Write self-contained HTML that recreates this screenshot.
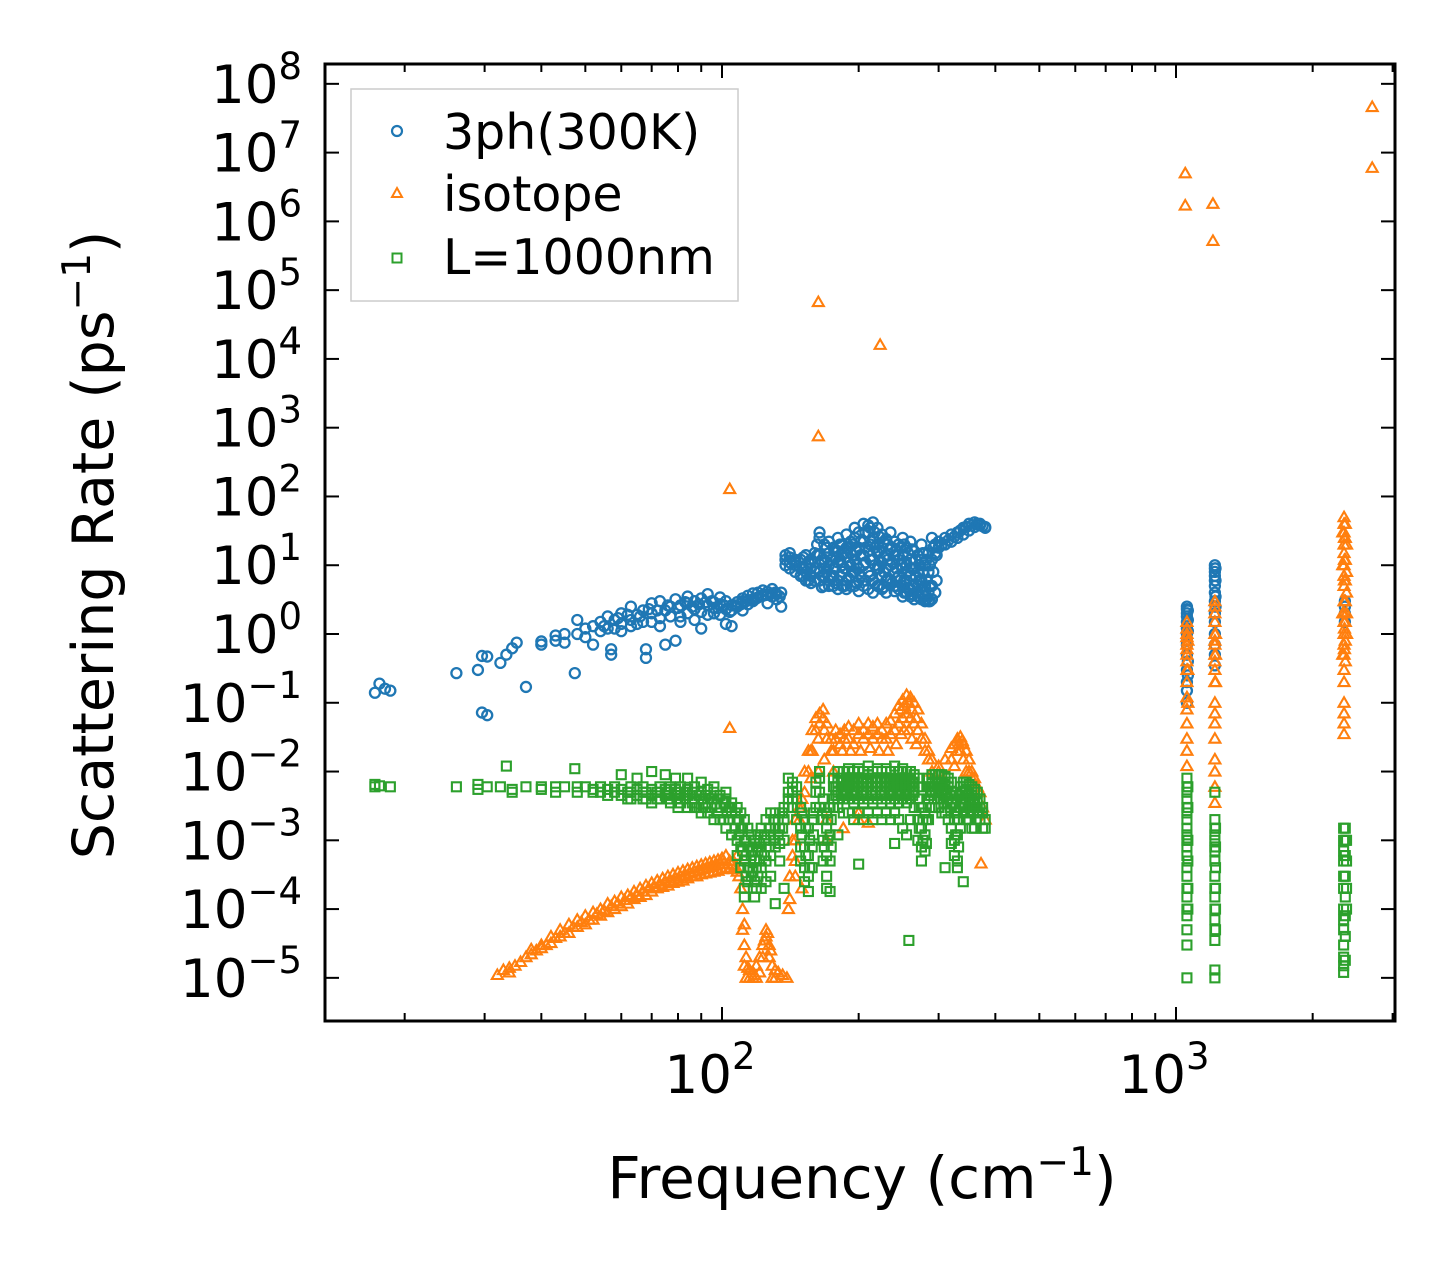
<!DOCTYPE html>
<html><head><meta charset="utf-8"><style>
html,body{margin:0;padding:0;background:#fff;}
svg{display:block;font-family:"DejaVu Sans","Liberation Sans",sans-serif;}
</style></head><body>
<svg id="chart" width="1455" height="1270" viewBox="0 0 1455 1270" xmlns="http://www.w3.org/2000/svg">
<rect x="0" y="0" width="1455" height="1270" fill="#fff"/>
<g id="marks"></g>
<g id="axes"></g>
<text x="862" y="1198" font-size="58" text-anchor="middle">Frequency (cm<tspan font-size="39" dy="-23">−1</tspan><tspan dy="23">)</tspan></text>
<text transform="translate(113,545) rotate(-90)" font-size="57" text-anchor="middle">Scattering Rate (ps<tspan font-size="39" dy="-23">−1</tspan><tspan dy="23">)</tspan></text>
<g>
<rect x="351" y="89" width="387" height="212" fill="#fff" stroke="#ccc" stroke-width="1.5"/>
<circle cx="397" cy="131" r="5" fill="none" stroke="#1f77b4" stroke-width="2.2"/>
<text x="443" y="149" font-size="49">3ph(300K)</text>
<polygon points="397,188 402,197 392,197" fill="none" stroke="#ff7f0e" stroke-width="2"/>
<text x="443" y="211" font-size="49">isotope</text>
<rect x="392.5" y="253.5" width="9" height="9" fill="none" stroke="#2ca02c" stroke-width="2"/>
<text x="443" y="274" font-size="49">L=1000nm</text>
</g>
</svg>
<script>
// rows: [frequency, rate1, rate2, ...]
const phononData = [[17.2,.14],[17.6,.19],[18.1,.16],[18.6,.15],[26,.27],[29,.3],[29.6,.48,.072],[30.4,.47,.066],[32.5,.38],[33.5,.5],[34.5,.62],[35.3,.75],[37,.17],[40,.7,.78],[43,.8,.95],[45,.75,1],[47.4,.27],[48,1.6,1],[50,.9,1.2],[52,.7,1.3],[54,1.1,1.5],[56,1.8,1.2],[57,.5,.6],[58,1.6,1.2],[60,2,1.4,1.1],[63,2.5,1.3,1.6],[65,1.9,1.4],[67,2.2,1.5],[68,.6,.45],[70,2.8,1.5,2],[73,3,1.7,1.3],[75,2.2,.7],[77,2.5,1.8],[79,.8,3.2],[81,1.8,2.6,1.5],[84,3.5,2,2.8],[87,1.6,2.3,3],[90,2.1,1.2,3.3],[93,2.6,1.9,3.8],[96,2.4,2.9,2],[99,3.4,2.7,1.9],[102,2.3,3,1.4],[105,2.6,1.3,2.2],[108,2.9,2.5],[111,3,2.2,3.3],[114,2.7,3.6],[117,3,3.9,3.2],[120,4,3.4],[123,4.3,3.6],[126,4.1,2.8],[129,3.5,4.5],[132,3.8,3.2],[135,2.5,4],[138,14,12,10],[141,15,13,11,9],[145,12,10,8,11],[149,7,12,9],[153,10,8,6,14],[157,9,7,5.5,12],[160,11,6,8,15],[164,30,25,14,8,6],[168,20,12,9,5,7],[172,15,22,10,6,5],[176,9,18,13,7,5],[180,11,25,16,6,4.5],[184,8,14,20,10,5],[188,13,28,18,6,4.5],[192,10,22,15,7,5],[196,25,35,12,8,5],[200,18,30,9,6,4.2],[205,14,40,22,10,5],[210,30,38,16,8,4.5],[215,42,25,12,6,4],[220,35,20,15,9,5],[225,28,18,11,7,4.5],[230,24,14,9,6,4],[235,30,17,10,6],[240,22,14,8,5,4.2],[245,20,12,7,4.5],[250,25,14,9,5,3.5],[255,18,10,6,4],[260,22,12,7,4.5,3.5],[265,16,9,5,3.2],[270,14,8,5,3.5],[275,20,12,6,3.2],[280,10,5,3.5,3],[285,15,8,4,3],[290,12,25,5,3.2],[295,20,15,4],[300,22,18],[310,20,25],[320,22,28],[330,30,25],[340,35,28],[350,40,32],[360,42,36],[370,38,40],[380,36,35],[1057,2.5,2,1.5,1,.7,.5,.3,.2,.15,.1,1.8,2.3,1.2,.8],[1062,2.2,1.6,1.1,.4,.25],[1218,10,8,6,4,3,2,1.5,1,.7,.5,.35,9,7,5],[1222,9,6,3.5,2.5],[2355,2,1.5,3,2.5]];
const phononExtra = [[151,13,9,7],[155,11,6],[162,9,14,20],[166,11,7,4.8],[170,18,13,8],[174,12,6.5],[178,16,9,5.5],[182,20,12,7],[186,15,9,5],[190,18,11,6.5],[194,20,14,8],[198,16,10,5.5],[202,22,14,7],[207,30,18,11,6],[212,35,20,12,7],[217,30,18,10,5.5],[222,26,16,9,5],[227,22,13,8,4.8],[232,20,12,6.5],[237,18,11,5.5],[242,16,9,5],[247,18,10,6],[252,20,11,6,4],[257,15,8,4.5],[262,17,9,5,3.8],[267,12,7,4],[272,10,6,3.5],[277,15,8,4],[282,12,6,3.2],[287,10,5,3],[292,18,8],[297,14,6],[305,20],[315,23],[325,26],[335,32],[345,36],[355,38],[365,40],[375,37],[55,1.3],[59,1.7],[62,1.9],[66,1.8],[69,2.3],[72,2.2],[76,2.6],[80,2.4],[83,2.9],[86,2.5],[89,2.7],[92,2.9],[95,3],[98,2.4],[101,2.6],[104,2.1],[107,2.6],[110,2.7],[113,3],[116,3.1],[119,3.3],[122,3.6],[125,3.7],[128,3.8],[131,4],[134,3.5]];
const isotopeData = [[32,1.1e-5],[33,1.3e-5],[34,1.4e-5,1.2e-5],[35,1.5e-5],[37,2e-5],[38,2.2e-5,2.6e-5],[40,2.7e-5,3e-5],[42,3.2e-5,4e-5],[44,4e-5,5e-5],[46,4.5e-5,6e-5],[48,5.5e-5,7e-5],[50,6e-5,8e-5],[52,7e-5,9e-5],[54,8e-5,1e-4],[56,9e-5,1.2e-4],[58,1e-4,1.3e-4],[60,1.1e-4,1.5e-4],[62,1.2e-4,1.6e-4],[64,1.4e-4,1.8e-4],[66,1.5e-4,2e-4],[68,1.6e-4,2.2e-4],[70,1.8e-4,2.4e-4],[72,2e-4,2.6e-4],[74,2.1e-4,2.8e-4],[76,2.2e-4,3e-4],[78,2.4e-4,3.2e-4],[80,2.5e-4,3.4e-4],[82,2.6e-4,3.6e-4],[84,2.8e-4,3.8e-4],[86,3e-4,4e-4],[88,3e-4,4.2e-4],[90,3.2e-4,4.4e-4],[92,3.3e-4,4.6e-4],[94,3.4e-4,4.8e-4],[96,3.5e-4,5e-4],[98,3.6e-4,5.2e-4],[100,3.8e-4,5.5e-4],[102,4e-4,6e-4],[104,4e-4,5e-4],[106,3.8e-4,5e-4],[108,3.5e-4,6e-4],[110,2e-4,4e-4],[111,1e-4,5e-5],[112,3e-5,1.5e-5],[113,2e-5,1e-5],[115,1e-5,1.3e-5],[117,1e-5,1.2e-5],[119,1e-5,1.5e-5],[121,1.2e-5,2e-5],[123,2e-5,3e-5],[125,4e-5,5e-5],[127,3e-5,2e-5],[129,1.5e-5,1e-5],[131,1e-5,1.3e-5],[133,1.2e-5],[136,1.1e-5],[139,1e-5],[141,1.4e-4,3e-4],[143,6e-4,1e-3],[145,1e-3,2e-3],[148,2e-3,3e-3],[150,3e-3,4e-3],[152,5e-3,1e-2],[155,1e-2,2e-2],[158,2e-2,4e-2],[161,4e-2,6e-2],[164,7e-2,5e-2],[167,8e-2,6e-2],[170,5e-2,3e-2],[174,3e-2,2e-2],[178,4e-2,3e-2],[182,3.5e-2,2.5e-2],[186,4e-2,3e-2],[190,4.5e-2,3e-2],[195,4e-2,2.5e-2],[200,5e-2,3.5e-2],[205,4e-2,3e-2],[210,5e-2,3.5e-2],[215,4.5e-2,3e-2],[220,5e-2,3.5e-2],[225,4e-2,3e-2],[230,5e-2,3e-2],[235,5.5e-2,3.5e-2],[240,7e-2,4e-2],[245,9e-2,5e-2],[250,1.1e-1,6e-2],[255,1.3e-1,7e-2],[260,1.2e-1,6e-2],[265,1e-1,5e-2],[270,8e-2,4e-2],[275,5e-2,3e-2],[280,3e-2,2e-2],[285,2e-2,1.5e-2],[290,1.5e-2,1e-2],[300,1.2e-2,1e-2],[310,1.5e-2],[320,2.2e-2,1.5e-2],[330,3e-2,2e-2],[335,3.2e-2,2e-2],[340,2.5e-2,1.5e-2],[350,1.5e-2,1e-2],[360,8e-3,6e-3],[370,5e-3],[375,3e-3],[380,2e-3],[170,1e-3,2e-3],[185,1.5e-3],[200,2e-3,2.5e-3],[210,1.8e-3],[145,3e-4,5e-4],[150,2e-4],[140,1e-4],[104,128],[163,6.7e4],[163,750],[223,1.6e4],[104,0.043],[372,4.6e-4],[1048,5e6,1.7e6],[1206,1.8e6,5.2e5],[2705,4.6e7,6e6],[1057,1.5,1,.7,.5,.3,.2,.12,.08,.05,.03,.02,.012,1.2,.9,.6,.4],[1062,.8,.3,.1],[1218,3,2,1.5,1,.7,.5,.3,.2,.1,.07,.05,.03,.015,.01,.006,.0035,2.5,.8,.4],[1222,1,.5,.2],[2330,.5,2,10,30],[2345,50,40,30,20,15,10,7,5,3,2,1.5,1,.7,.5,.3,.2,.1,.07,.05,.035],[2360,40,25,12,6,3,1.5,.8,.4],[2375,20,8,4,2,1]];
const isotopeExtra = [[36,1.7e-5],[39,2.5e-5],[41,3e-5],[43,3.8e-5],[45,4.5e-5],[47,5.5e-5],[49,6.5e-5],[51,7e-5],[53,8.5e-5],[55,9.5e-5],[57,1.1e-4],[59,1.2e-4],[61,1.35e-4],[63,1.5e-4],[65,1.6e-4],[67,1.8e-4],[69,2e-4],[71,2.1e-4],[73,2.3e-4],[75,2.5e-4],[77,2.6e-4],[79,2.8e-4],[81,3e-4],[83,3.1e-4],[85,3.3e-4],[87,3.5e-4],[89,3.6e-4],[91,3.8e-4],[93,4e-4],[95,4.1e-4],[97,4.3e-4],[99,4.5e-4],[101,4.6e-4],[103,4.5e-4],[105,4.4e-4],[107,4.2e-4],[109,3e-4],[112,6e-5],[114,1.4e-5],[118,1.1e-5],[124,3.5e-5],[126,4.5e-5],[128,2.5e-5],[157,2e-2,8e-3],[163,3e-2,1e-2],[168,4e-2,1.5e-2],[176,2e-2,1e-2],[184,2e-2],[192,2e-2],[202,2e-2],[212,2.2e-2],[222,2e-2],[232,2e-2],[242,2.5e-2],[248,3.5e-2,8e-2],[252,9e-2,4e-2],[258,1e-1,4e-2],[262,8e-2,3e-2],[268,6e-2,2.5e-2],[325,2.5e-2,1.2e-2],[332,2.5e-2],[338,2.8e-2],[345,2e-2,1e-2],[355,1e-2,8e-3],[365,6e-3],[2350,25,12,6,3,1.2,.6]];
const boundaryData = [[17.2,6.5e-3,6e-3],[17.6,6.2e-3],[18.6,6e-3],[26,6e-3],[29,6.5e-3,5.5e-3],[30.4,6e-3],[32.5,6e-3],[33.5,1.2e-2],[34.5,5.5e-3,5e-3],[37,6e-3],[40,6e-3,5.5e-3],[43,6e-3,5e-3],[45,6e-3],[47.4,1.1e-2],[48,6e-3,5e-3],[50,6e-3],[52,5.5e-3,5e-3],[54,6e-3,5e-3],[56,5.5e-3,4.5e-3],[58,6e-3,5e-3],[60,5.5e-3,4.5e-3,9e-3],[63,6e-3,5e-3,4e-3],[65,5.5e-3,4.5e-3,8e-3],[67,6e-3,5e-3,4e-3],[70,5.5e-3,4.5e-3,3.5e-3,1e-2],[73,6e-3,5e-3,4e-3],[75,5.5e-3,4.5e-3,9e-3],[77,6e-3,4e-3,3.5e-3],[79,5.5e-3,4.5e-3,8e-3],[81,6e-3,5e-3,3.5e-3],[84,5.5e-3,4.5e-3,3e-3,8e-3],[87,6e-3,4e-3,3e-3],[90,5e-3,4e-3,2.5e-3,7e-3],[93,5.5e-3,3.5e-3,2.5e-3],[96,5e-3,4e-3,2e-3,6e-3],[99,4.5e-3,3e-3,2e-3],[102,4e-3,3e-3,1.5e-3,5e-3],[105,3.5e-3,2.5e-3,1.2e-3],[108,3e-3,2e-3,1e-3,6e-4],[110,2.5e-3,1.5e-3,8e-4,4e-4],[112,2e-3,1e-3,5e-4,2e-4,1.5e-4],[114,1.5e-3,8e-4,4e-4,2.5e-4],[116,1.2e-3,6e-4,3e-4],[118,1e-3,5e-4,2.5e-4,1.5e-4],[120,1.2e-3,7e-4,3e-4],[122,1.5e-3,8e-4,4e-4,2e-4],[125,2e-3,1e-3,5e-4,2.5e-4],[128,2.5e-3,1.2e-3,6e-4,3e-4],[131,2.5e-3,1.5e-3,8e-4,1.2e-4],[134,2.5e-3,1.5e-3,9e-4,5e-4],[137,3e-3,2e-3,1e-3,2e-4],[140,3e-3,4e-3,5e-3,8e-3],[143,3e-3,5e-3,7e-3,4e-3],[146,4e-3,6e-3,2e-3],[149,3e-3,1.5e-3,8e-4,5e-4],[152,2e-3,8e-4,4e-4,2.5e-4],[155,1.5e-3,6e-4,3e-4,1.8e-4],[158,2e-3,8e-4,4e-4],[161,3e-3,5e-3,7e-3],[164,5e-3,8e-3,1e-2,3e-3],[167,4e-3,2e-3,1e-3,5e-4],[170,2.5e-3,1.5e-3,6e-4,3e-4,2e-4],[173,3e-3,1.2e-3,5e-4,1.8e-4],[176,4e-3,6e-3,8e-3,3e-3],[180,5e-3,7e-3,1e-2,4e-3,3e-3],[185,5e-3,7e-3,1e-2,4e-3,2.5e-3],[190,6e-3,8e-3,1.1e-2,4e-3,2.5e-3],[195,5e-3,7e-3,1e-2,3.5e-3,2e-3],[200,6e-3,8e-3,1.1e-2,4e-3,2.5e-3],[205,5e-3,7e-3,1e-2,3.5e-3,2e-3],[210,6e-3,9e-3,1.2e-2,4e-3,2.5e-3],[215,5e-3,7e-3,1e-2,3.5e-3,2e-3],[220,6e-3,8e-3,1.1e-2,4e-3,2.5e-3],[225,5e-3,7e-3,1e-2,3.5e-3,2e-3],[230,6e-3,8e-3,1.1e-2,4e-3,2.5e-3],[235,5e-3,7e-3,1e-2,3.5e-3,2e-3],[240,6e-3,8e-3,1.2e-2,4e-3,2.5e-3],[245,5e-3,7e-3,1e-2,3.5e-3,2e-3],[250,6e-3,8e-3,1.1e-2,4e-3,1.5e-3],[255,5e-3,7e-3,1e-2,3.5e-3,1.2e-3],[260,6e-3,8e-3,1e-2,4e-3,2e-3],[265,5e-3,7e-3,9e-3,3e-3],[270,4e-3,6e-3,8e-3,2e-3,1e-3],[275,3e-3,1.5e-3,8e-4,5e-4],[280,2.5e-3,1.2e-3,7e-4],[285,4e-3,6e-3,8e-3,2e-3],[290,5e-3,7e-3,9e-3,3e-3],[295,5e-3,7e-3,9e-3,3e-3],[300,5e-3,7e-3,9e-3,3e-3],[305,5e-3,7e-3,9e-3,2.5e-3],[310,4.5e-3,6.5e-3,8.5e-3,2.5e-3],[315,4e-3,6e-3,8e-3,2e-3],[320,3.5e-3,5e-3,7e-3,1.5e-3],[325,3e-3,2e-3,1e-3,6e-4],[330,2.5e-3,1.2e-3,5e-4,4e-4],[335,3e-3,4e-3,6e-3,1.5e-3],[340,4e-3,6e-3,7e-3,2.5e-3],[345,4e-3,5.5e-3,7e-3,2e-3],[350,3.5e-3,5e-3,6.5e-3,2e-3],[355,3e-3,4.5e-3,6e-3,1.5e-3],[360,3e-3,4e-3,5.5e-3,1.5e-3],[365,2.5e-3,3.5e-3,5e-3],[370,2e-3,3e-3,4e-3],[375,1.5e-3,2.5e-3,3e-3],[380,1.5e-3,2e-3],[258,3.5e-5],[310,4e-4],[340,2.5e-4],[320,9e-4],[240,9e-4],[200,4.5e-4],[180,1.2e-3],[1057,8e-3,6e-3,4e-3,3e-3,2e-3,1.5e-3,1e-3,8e-4,6e-4,4e-4,3e-4,2e-4,1.5e-4,1e-4,8e-5,5e-5,3e-5,1e-5,5e-3,2.5e-3,1.2e-3],[1062,6e-3,3e-3,1e-3,5e-4,2e-4,1e-4],[1218,2e-3,1.5e-3,1e-3,7e-4,5e-4,3e-4,2e-4,1.5e-4,1e-4,7e-5,5e-5,3.5e-5,1.3e-5,1e-5,5e-3,1.2e-3,8e-4],[1222,1.5e-3,8e-4,4e-4,2e-4,1e-4,5e-5],[2340,1.5e-3,1e-3,7e-4,5e-4,3e-4,2e-4,1e-4,7e-5,5e-5,3e-5,2e-5,1.5e-5,1.2e-5],[2360,1.5e-3,1e-3,6e-4,3e-4,1.5e-4,8e-5,4e-5,1.8e-5],[2375,1e-3,5e-4,2e-4,1e-4]];
const boundaryExtra = [[62,5e-3,4e-3],[68,5e-3,4e-3],[72,5e-3,4e-3],[76,5e-3,4e-3],[80,5e-3,4e-3,3e-3],[83,5e-3,4e-3],[86,5e-3,3.5e-3],[89,4.5e-3,3e-3],[92,4.5e-3,3e-3],[95,4e-3,3e-3],[98,4e-3,2.5e-3],[101,3.5e-3,2e-3],[104,3e-3,2e-3],[107,2.5e-3,1.5e-3],[109,2e-3,1.2e-3],[111,1.5e-3,7e-4],[113,1e-3,6e-4,3e-4],[115,8e-4,4e-4],[117,7e-4,3.5e-4],[119,8e-4,4e-4,2e-4],[121,9e-4,5e-4],[124,1.2e-3,6e-4],[127,1.5e-3,8e-4],[130,2e-3,1e-3],[133,2e-3,1.2e-3],[136,2.5e-3,1.5e-3],[178,6e-3,4.5e-3],[183,6e-3,4.5e-3,8e-3],[188,6e-3,4.5e-3,8e-3],[193,6e-3,4.5e-3,8e-3],[198,6e-3,4.5e-3,8e-3],[203,6e-3,4.5e-3,8e-3],[208,6e-3,4.5e-3,8e-3],[213,6e-3,4.5e-3,8e-3],[218,6e-3,4.5e-3,8e-3],[223,6e-3,4.5e-3,8e-3],[228,6e-3,4.5e-3,8e-3],[233,6e-3,4.5e-3,8e-3],[238,6e-3,4.5e-3,8e-3],[243,6e-3,4.5e-3,8e-3],[248,6e-3,4.5e-3,8e-3],[253,6e-3,4.5e-3,8e-3],[258,6e-3,4.5e-3,8e-3],[263,6e-3,4.5e-3,7e-3],[288,6e-3,4.5e-3],[293,6e-3,4e-3],[298,6e-3,4e-3],[303,6e-3,4e-3],[308,5.5e-3,3.5e-3],[313,5e-3,3.5e-3],[318,4.5e-3,3e-3],[338,5e-3,3.5e-3],[343,5e-3,3.5e-3],[348,4.5e-3,3e-3],[353,4e-3,2.5e-3],[358,3.5e-3,2.5e-3],[363,3e-3,2e-3],[368,2.5e-3],[150,2.5e-3,1.2e-3],[153,1.5e-3,6e-4],[156,1e-3,4e-4],[159,2.5e-3,1.2e-3],[168,3e-3,8e-4],[171,2e-3,1e-3],[174,2e-3,8e-4],[272,3e-3,1.5e-3],[277,2e-3,1e-3],[282,2e-3,9e-4],[327,2.5e-3,1.2e-3],[332,2e-3,8e-4]];
const xTickExps = [2, 3];
const yTickExps = [8,7,6,5,4,3,2,1,0,-1,-2,-3,-4,-5];

const NS = 'http://www.w3.org/2000/svg';
const L = 325, R = 1395, T = 64, B = 1021;
function xs(f){ return 722 + 454 * (Math.log10(f) - 2); }
function ys(v){ return 634 - 68.77 * Math.log10(v); }
function mk(tag, attrs, parent){ const e = document.createElementNS(NS, tag); for (const k in attrs) e.setAttribute(k, attrs[k]); parent.appendChild(e); return e; }
const marks = document.getElementById('marks');
const axes = document.getElementById('axes');

function drawSeries(data, kind, color, name){
  const g = mk('g', {}, marks);
  
  
  data.forEach(row => {
    const f = row[0];
    for (let i = 1; i < row.length; i++){
      const x = xs(f), y = ys(row[i]);
      let el;
      if (kind === 'circle') el = mk('circle', {cx: x, cy: y, r: 5, fill: 'none', stroke: color, 'stroke-width': 2.3}, g);
      else if (kind === 'tri') el = mk('polygon', {points: `${x},${y-5.5} ${x+5.5},${y+4} ${x-5.5},${y+4}`, fill: 'none', stroke: color, 'stroke-width': 2.1}, g);
      else el = mk('rect', {x: x-4.5, y: y-4.5, width: 9, height: 9, fill: 'none', stroke: color, 'stroke-width': 2.1}, g);
      
      
    }
  });
}
drawSeries(phononData.concat(phononExtra), 'circle', '#1f77b4', 'phonon-3ph');
drawSeries(isotopeData.concat(isotopeExtra), 'tri', '#ff7f0e', 'isotope');
drawSeries(boundaryData.concat(boundaryExtra), 'square', '#2ca02c', 'boundary');

const cp = mk('clipPath', {id: 'clip'}, document.getElementById('chart'));
mk('rect', {x: L, y: T, width: R-L, height: B-T}, cp);
marks.setAttribute('clip-path', 'url(#clip)');

const frame = mk('rect', {x: L, y: T, width: R-L, height: B-T, fill: 'none', stroke: '#000', 'stroke-width': 3}, axes);



for (let e = 1; e <= 3; e++){
  for (let m = 1; m <= 9; m++){
    const f = m * Math.pow(10, e), x = xs(f);
    if (x < L || x > R) continue;
    const len = m === 1 ? 14 : 8;
    const t1 = mk('line', {x1: x, x2: x, y1: B, y2: B-len, stroke: '#000', 'stroke-width': 2}, axes);
    
    
    const t2 = mk('line', {x1: x, x2: x, y1: T, y2: T+len, stroke: '#000', 'stroke-width': 2}, axes);
    
    
  }
}
xTickExps.forEach(e => {
  const t = mk('text', {x: xs(Math.pow(10, e)) - 12, y: 1093, 'font-size': 53, 'text-anchor': 'middle'}, axes);
  
  
  t.innerHTML = '10<tspan font-size="37" dy="-24">' + e + '</tspan>';
});
yTickExps.forEach(e => {
  const y = ys(Math.pow(10, e));
  const a = mk('line', {x1: L, x2: L+14, y1: y, y2: y, stroke: '#000', 'stroke-width': 2}, axes);
  
  
  const b = mk('line', {x1: R, x2: R-14, y1: y, y2: y, stroke: '#000', 'stroke-width': 2}, axes);
  
  
  const t = mk('text', {x: 302, y: y + 19, 'font-size': 53, 'text-anchor': 'end'}, axes);
  
  
  const s = e < 0 ? '−' + (-e) : '' + e;
  t.innerHTML = '10<tspan font-size="37" dy="-24">' + s + '</tspan>';
});
</script>
</body></html>
